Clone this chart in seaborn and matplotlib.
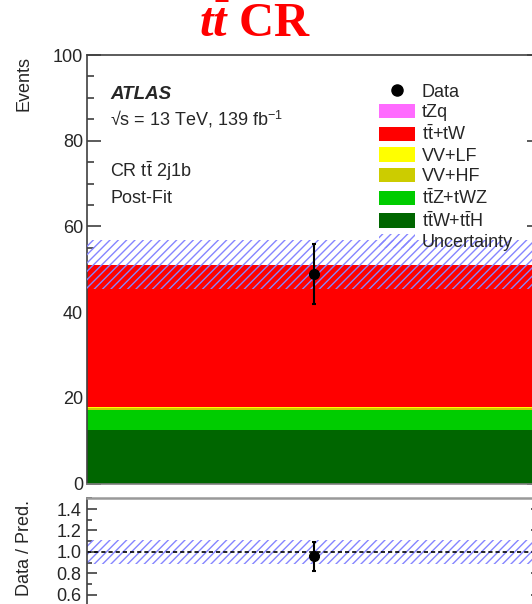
import numpy as np
import pandas as pd
import matplotlib
matplotlib.use("Agg")
import matplotlib.pyplot as plt
import seaborn as sns
from matplotlib.ticker import MultipleLocator
from matplotlib.patches import Patch
from matplotlib.lines import Line2D

# post-fit yields in the single bin of CR tt 2j1b
samples = ["tZq", "tt+tW", "VV+LF", "VV+HF", "ttZ+tWZ", "ttW+ttH"]
labels = ["tZq", r"$\mathrm{t\bar{t}}$+tW", "VV+LF", "VV+HF",
          r"$\mathrm{t\bar{t}}$Z+tWZ", r"$\mathrm{t\bar{t}}$W+$\mathrm{t\bar{t}}$H"]
yields = [0.2, 33.1, 0.25, 0.3, 4.65, 12.6]
colors = ["#ff6bff", "#ff0000", "#ffff00", "#cccc00", "#00cc00", "#006600"]
total_unc = 5.7
data_obs = 49
data_err = 7.0

hatch_col = "#8585ff"

sns.set_style("ticks")
plt.rcParams["font.family"] = ["Liberation Sans", "DejaVu Sans"]
plt.rcParams["mathtext.fontset"] = "custom"
plt.rcParams["mathtext.rm"] = "Liberation Sans"
plt.rcParams["mathtext.it"] = "Liberation Serif:italic:bold"
plt.rcParams["mathtext.bf"] = "Liberation Sans:bold"
plt.rcParams["hatch.linewidth"] = 1.0

W, H = 532, 604
fig = plt.figure(figsize=(W / 100, H / 100), dpi=100)

def px_axes(left, top, right, bottom):
    return fig.add_axes([left / W, 1 - bottom / H, (right - left) / W, (bottom - top) / H])

ax = px_axes(86.7, 55, 541.3, 483.5)
ax2 = px_axes(86.7, 498.3, 541.3, 605.3)

df = pd.DataFrame({"x": 0.5, "events": yields, "sample": samples})
sns.histplot(data=df, x="x", weights="events", hue="sample", hue_order=samples,
             multiple="stack", bins=[0, 1], palette=dict(zip(samples, colors)),
             alpha=1, linewidth=0, legend=False, ax=ax)

total = sum(yields)
ax.fill_between([0, 1], total - total_unc, total + total_unc, facecolor="none",
                edgecolor=hatch_col, hatch="////", linewidth=0, zorder=3)
ax.errorbar(0.5, data_obs, yerr=data_err, fmt="o", color="black", markersize=7,
            elinewidth=1.5, capsize=1.5, capthick=1.5, zorder=5)

ax.set_xlim(0, 1)
ax.set_ylim(0, 100)
ax.set_xlabel("")
ax.set_ylabel("")
ax.set_xticks([])
ax.yaxis.set_major_locator(MultipleLocator(20))
ax.yaxis.set_minor_locator(MultipleLocator(5))
ax.tick_params(axis="y", which="both", direction="in", right=True, labelsize=13,
               color="#404040", pad=2.5)
ax.tick_params(axis="y", which="major", length=10, width=1.2)
ax.tick_params(axis="y", which="minor", length=5, width=1.2)
for s in ax.spines.values():
    s.set_color("#404040")
    s.set_linewidth(1.2)
ax.spines["bottom"].set_color("#808080")

# ratio panel
ratio = data_obs / total
ratio_err = data_err / total
rel_unc = total_unc / total
ax2.fill_between([0, 1], 1 - rel_unc, 1 + rel_unc, facecolor="none",
                 edgecolor=hatch_col, hatch="////", linewidth=0, zorder=1)
ax2.axhline(1.0, color="black", linestyle=(0, (2.5, 1.8)), linewidth=1.2, zorder=2)
ax2.errorbar(0.5, ratio, yerr=ratio_err, fmt="o", color="black", markersize=7,
             elinewidth=1.5, capsize=1.5, capthick=1.5, zorder=5)
ax2.set_xlim(0, 1)
ax2.set_ylim(0.5, 1.5)
ax2.set_xticks([])
ax2.yaxis.set_major_locator(MultipleLocator(0.2))
ax2.yaxis.set_minor_locator(MultipleLocator(0.1))
ax2.tick_params(axis="y", which="both", direction="in", right=True, labelsize=13,
                color="#404040", pad=4)
ax2.tick_params(axis="y", which="major", length=7, width=1.2)
ax2.tick_params(axis="y", which="minor", length=3.5, width=1.2)
for s in ax2.spines.values():
    s.set_color("#404040")
    s.set_linewidth(1.2)
ax2.spines["top"].set_color("#999999")
ax2.spines["top"].set_linewidth(1.8)

# legend
handles = [Line2D([], [], marker="o", color="black", linestyle="none", markersize=8)]
handles += [Patch(facecolor=c, edgecolor="none") for c in colors]
handles += [Patch(facecolor="none", edgecolor=hatch_col, hatch="////", linewidth=0)]
leg = ax.legend(handles, ["Data"] + labels + ["Uncertainty"],
                loc="upper left", bbox_to_anchor=(379 / W, 1 - 83.5 / H),
                bbox_transform=fig.transFigure, frameon=False, fontsize=13,
                borderpad=0, borderaxespad=0, handlelength=1.97, handleheight=0.83,
                handletextpad=0.4, labelspacing=0.18)

def ftext(x, y, s, **kw):
    fig.text(x / W, 1 - y / H, s, **kw)

ftext(255, 37.3, r"$t\bar{t}$ CR", ha="center", va="baseline", color="red",
      fontsize=35, fontweight="bold", family=["Liberation Serif", "DejaVu Serif"])
ftext(110.3, 99, "ATLAS", fontsize=13.5, fontweight="bold", fontstyle="italic", va="baseline")
ftext(110.3, 125.5, r"√s = 13 TeV, 139 fb$^{-1}$", fontsize=13, va="baseline")
ftext(110.3, 177, r"CR $\mathrm{t\bar{t}}$ 2j1b", fontsize=13, va="baseline")
ftext(110.3, 202.6, "Post-Fit", fontsize=13, va="baseline")
ftext(24, 56, "Events", rotation=90, ha="center", va="top", fontsize=13)
ftext(24.3, 500, "Data / Pred.", rotation=90, ha="center", va="top", fontsize=13)

fig.savefig("out.png", dpi=100)
